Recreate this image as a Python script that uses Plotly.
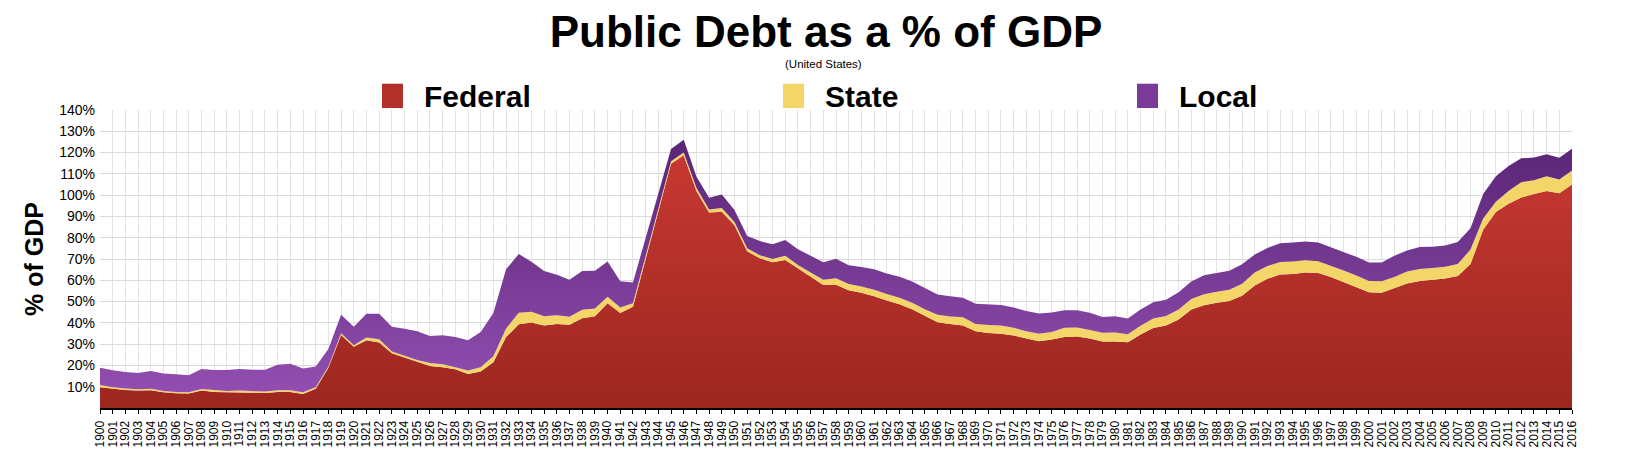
import plotly.graph_objects as go

years = list(range(1900, 2017))

federal = [
    9.8, 9.1, 8.5, 8.2, 8.3, 7.4, 6.9, 6.8, 8.2, 7.5,
    7.4, 7.5, 7.2, 7.1, 7.5, 7.5, 6.6, 9.1, 18.9, 34.3,
    28.8, 31.8, 30.8, 25.7, 23.7, 21.7, 19.7, 19.2, 18.2, 16.0,
    17.2, 21.5, 33.3, 39.4, 40.2, 38.8, 39.5, 39.1, 42.2, 43.1,
    49.2, 44.6, 47.6, 70.0, 92.5, 114.8, 118.8, 102.0, 91.8, 92.2,
    85.8, 73.6, 70.3, 68.5, 69.5, 65.6, 61.8, 57.8, 57.9, 55.3,
    54.1, 52.5, 50.5, 48.7, 46.4, 43.3, 40.3, 39.5, 38.7, 36.0,
    35.2, 34.9, 34.1, 32.6, 31.4, 32.2, 33.4, 33.6, 32.7, 31.3,
    31.3, 30.9, 34.5, 37.6, 38.8, 41.6, 46.3, 48.3, 49.5, 50.3,
    52.7, 57.6, 60.7, 62.7, 63.0, 63.7, 63.4, 61.5, 59.2, 56.9,
    54.4, 54.2, 56.2, 58.5, 59.7, 60.3, 60.8, 62.0, 67.6, 83.7,
    92.1, 95.9, 98.9, 100.5, 102.0, 100.9, 105.0,
]

state = [
    1.0, 0.7, 0.7, 0.6, 0.8, 0.6, 0.6, 0.6, 0.7, 0.8,
    0.6, 0.7, 0.6, 0.6, 0.8, 0.8, 0.8, 0.6, 0.6, 0.8,
    0.7, 1.3, 1.5, 0.9, 0.9, 0.9, 1.4, 1.3, 1.0, 1.6,
    2.0, 2.8, 4.0, 5.4, 5.0, 4.3, 4.1, 3.8, 3.9, 3.6,
    3.1, 2.6, 1.6, 1.0, 1.0, 1.1, 1.2, 1.5, 1.4, 1.8,
    1.6, 1.4, 1.5, 1.5, 2.0, 1.6, 1.8, 2.4, 3.1, 2.9,
    3.0, 3.1, 3.1, 3.1, 3.1, 3.1, 3.5, 3.5, 3.9, 3.5,
    3.8, 3.8, 3.6, 3.4, 3.5, 3.5, 4.3, 4.2, 3.9, 4.0,
    4.2, 3.8, 4.1, 4.5, 4.4, 4.7, 4.9, 5.1, 5.1, 5.3,
    5.7, 6.1, 6.0, 5.9, 5.8, 5.7, 5.6, 5.4, 5.4, 5.4,
    5.3, 5.3, 5.3, 5.6, 5.6, 5.5, 5.6, 5.6, 6.9, 5.3,
    4.8, 6.1, 7.2, 6.5, 6.9, 6.4, 6.6,
]

local = [
    8.1, 7.9, 7.7, 7.7, 8.3, 8.2, 8.3, 8.0, 9.4, 9.5,
    9.8, 10.1, 10.2, 10.3, 12.0, 12.5, 11.1, 9.8, 8.2, 8.7,
    8.7, 11.2, 12.0, 11.6, 12.6, 13.4, 12.7, 13.7, 14.2, 14.2,
    16.5, 20.3, 27.9, 27.5, 23.5, 21.3, 19.0, 17.3, 18.3, 17.8,
    16.5, 12.3, 9.8, 8.5, 6.5, 5.8, 6.0, 5.3, 5.6, 6.3,
    5.6, 5.8, 6.6, 6.9, 7.4, 7.4, 7.9, 8.3, 9.1, 8.9,
    9.2, 9.6, 9.6, 9.9, 9.9, 10.0, 9.5, 9.5, 9.2, 9.5,
    9.7, 9.7, 9.5, 9.6, 9.5, 9.2, 8.2, 8.1, 8.2, 7.4,
    7.6, 7.3, 7.7, 7.6, 7.7, 8.1, 8.2, 9.0, 8.8, 8.9,
    9.1, 8.4, 8.5, 8.8, 8.9, 8.8, 8.8, 8.7, 8.8, 8.7,
    8.7, 8.9, 10.0, 9.9, 10.3, 9.9, 9.9, 10.4, 9.9, 11.5,
    12.0, 11.7, 11.2, 10.7, 10.3, 10.3, 10.2,
]

series_names = ["Federal", "State", "Local"]
y_ticks = list(range(10, 141, 10))
y_ticktext = [f"{v}%" for v in y_ticks]

FONT = "Liberation Sans, Arial, Helvetica, sans-serif"

fig = go.Figure()

fig.add_trace(go.Scatter(
    x=years, y=federal, name=series_names[0], mode="lines",
    stackgroup="one", line=dict(width=0, color="#b3302a"),
    fillcolor="#b3302a",
    fillgradient=dict(type="vertical", start=0, stop=125,
                      colorscale=[[0, "#9b261f"], [1, "#c93933"]]),
))
fig.add_trace(go.Scatter(
    x=years, y=state, name=series_names[1], mode="lines",
    stackgroup="one", line=dict(width=0, color="#f4d568"),
    fillcolor="#f4d568",
))
fig.add_trace(go.Scatter(
    x=years, y=local, name=series_names[2], mode="lines",
    stackgroup="one", line=dict(width=0, color="#7a3a98"),
    fillcolor="#7a3a98",
    fillgradient=dict(type="vertical", start=0, stop=125,
                      colorscale=[[0, "#9752b6"], [1, "#5a2576"]]),
))

# legend drawn as squares + labels
legend_items = [
    (382, "#b3302a", series_names[0]),
    (783, "#f4d568", series_names[1]),
    (1137, "#7a3a98", series_names[2]),
]
shapes = []
annotations = []
for x0, col, name in legend_items:
    shapes.append(dict(type="rect", xref="paper", yref="paper",
                       x0=(x0 - 100) / 1472, x1=(x0 + 21 - 100) / 1472,
                       y0=(416 - 108) / 306, y1=(416 - 83) / 306,
                       fillcolor=col, line=dict(width=0), layer="above"))
    annotations.append(dict(text=f"<b>{name}</b>", xref="paper", yref="paper",
                            x=(x0 + 40 - 100) / 1472, y=(416 - 96) / 306,
                            xanchor="left", yanchor="middle", showarrow=False,
                            font=dict(family=FONT, size=30, color="#000000")))

annotations.append(dict(text="(United States)", xref="paper", yref="paper",
                        x=(823 - 100) / 1472, y=(416 - 63) / 306,
                        xanchor="center", yanchor="middle", showarrow=False,
                        font=dict(family=FONT, size=11.5, color="#000000")))

fig.update_layout(
    width=1634, height=460,
    margin=dict(l=100, r=62, t=110, b=44),
    paper_bgcolor="white", plot_bgcolor="white",
    showlegend=False,
    title=dict(text="<b>Public Debt as a % of GDP</b>",
               x=826 / 1634, xanchor="center", xref="container",
               y=1 - 32 / 460, yanchor="middle", yref="container",
               font=dict(family=FONT, size=44, color="#000000")),
    shapes=shapes,
    annotations=annotations,
    xaxis=dict(
        range=[1900, 2016], tickvals=years, ticktext=[str(y) for y in years],
        tickangle=-90, tickfont=dict(family=FONT, size=12, color="#000000"),
        ticks="outside", ticklen=4, tickcolor="#000000", tickwidth=1,
        ticklabelstandoff=2,
        showline=True, linecolor="#000000", linewidth=2,
        showgrid=True, gridcolor="#e3e3e3", gridwidth=1, zeroline=False,
    ),
    yaxis=dict(
        range=[0, 140], tickvals=y_ticks, ticktext=y_ticktext,
        tickfont=dict(family=FONT, size=14, color="#000000"),
        showgrid=True, gridcolor="#d9d9d9", gridwidth=1, zeroline=False,
        showline=False, ticks="", ticklabelstandoff=4,
        title=dict(text="<b>% of GDP</b>", standoff=8,
                   font=dict(family=FONT, size=25, color="#000000")),
    ),
    yaxis2=dict(
        range=[0, 140], tickvals=y_ticks, ticktext=y_ticktext,
        overlaying="y", side="right", showgrid=False, zeroline=False,
        tickfont=dict(family=FONT, size=14, color="#000000"),
        ticks="", ticklabelstandoff=4, showline=False,
    ),
)

fig.write_html("out.html")
